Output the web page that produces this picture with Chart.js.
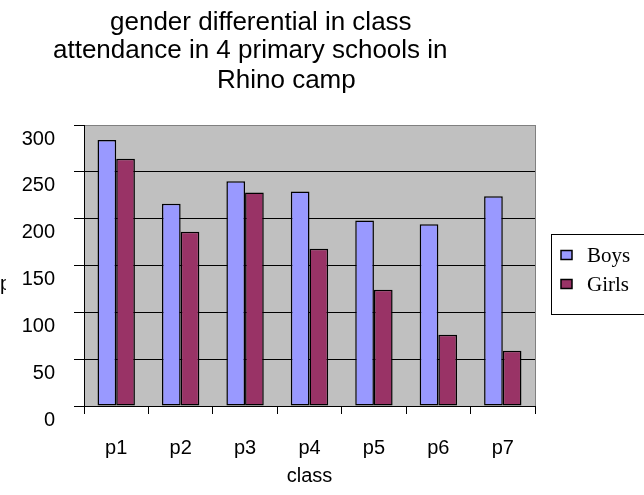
<!DOCTYPE html>
<html>
<head>
<meta charset="utf-8">
<script src="https://cdn.jsdelivr.net/npm/chart.js@4/dist/chart.umd.min.js"></script>
<style>
  html, body { margin: 0; padding: 0; background: #ffffff; }
  #wrap { width: 644px; height: 495px; }
</style>
</head>
<body>
<div id="wrap"><canvas id="chartAttendance" width="644" height="495"></canvas></div>
<script>
// data
const classes = ['p1', 'p2', 'p3', 'p4', 'p5', 'p6', 'p7'];
const boys = [284, 216, 240, 229, 198, 194, 224];
const girls = [264, 186, 228, 168, 124, 76, 59];
const yTicks = [0, 50, 100, 150, 200, 250, 300];
const seriesNames = ['Boys', 'Girls'];
const titleLines = ['gender differential in class', 'attendance in 4 primary schools in', 'Rhino camp'];

Chart.defaults.font.family = '"Liberation Sans", Arial, sans-serif';
Chart.defaults.font.size = 20;
Chart.defaults.color = '#000';

// grey plot area + excel style title, legend box and the cut "p"
const excelLook = {
    id: 'excelLook',
    beforeDraw(chart) {
        const a = chart.chartArea;
        const ctx = chart.ctx;
        ctx.save();
        ctx.fillStyle = '#c0c0c0';
        ctx.fillRect(a.left, a.top, a.right - a.left, a.bottom - a.top);
        ctx.restore();
    },
    afterDraw(chart) {
        const a = chart.chartArea;
        const ctx = chart.ctx;
        ctx.save();

        // right border of plot
        ctx.strokeStyle = '#808080';
        ctx.lineWidth = 1;
        ctx.beginPath();
        ctx.moveTo(Math.round(a.right) + 0.5, a.top);
        ctx.lineTo(Math.round(a.right) + 0.5, a.bottom);
        ctx.stroke();

        // title
        ctx.fillStyle = '#000';
        ctx.font = '26px "Liberation Sans", Arial, sans-serif';
        ctx.textAlign = 'left';
        ctx.textBaseline = 'alphabetic';
        const tx = [110, 53, 217];
        const ty = [30, 58, 88];
        titleLines.forEach((t, i) => ctx.fillText(t, tx[i], ty[i]));

        // cut off y title
        ctx.save();
        ctx.beginPath();
        ctx.rect(0, 0, 6, 495);
        ctx.clip();
        ctx.font = '20px "Liberation Sans", Arial, sans-serif';
        ctx.fillText('p', 0, 290);
        ctx.restore();

        // legend
        const lx = a.right + 16;
        const ly = 234;
        ctx.fillStyle = '#fff';
        ctx.fillRect(lx, ly, 120, 80);
        ctx.strokeStyle = '#000';
        ctx.strokeRect(lx + 0.5, ly + 0.5, 120, 80);
        ctx.font = '21px "Liberation Serif", "Times New Roman", serif';
        ctx.textBaseline = 'middle';
        chart.data.datasets.forEach((ds, i) => {
            const cy = ly + 21 + i * 29;
            ctx.fillStyle = ds.backgroundColor;
            ctx.fillRect(lx + 10, cy - 4.5, 11, 9);
            ctx.strokeStyle = '#000';
            ctx.lineWidth = 1.5;
            ctx.strokeRect(lx + 10, cy - 4.5, 11, 9);
            ctx.fillStyle = '#000';
            ctx.fillText(ds.label, lx + 36, cy + 1);
        });
        ctx.restore();
    }
};

new Chart(document.getElementById('chartAttendance'), {
    type: 'bar',
    data: {
        labels: classes,
        datasets: [{
            label: seriesNames[0],
            data: boys,
            backgroundColor: '#9999ff',
            borderColor: '#000',
            borderWidth: 1.5,
            borderSkipped: false,
            categoryPercentage: 0.58,
            barPercentage: 1
        }, {
            label: seriesNames[1],
            data: girls,
            backgroundColor: '#993366',
            borderColor: '#000',
            borderWidth: 1.5,
            borderSkipped: false,
            categoryPercentage: 0.58,
            barPercentage: 1
        }]
    },
    options: {
        responsive: false,
        animation: false,
        layout: {
            padding: { top: 125, right: 109, bottom: 0, left: 20 }
        },
        plugins: {
            legend: { display: false },
            title: { display: false },
            tooltip: { enabled: false }
        },
        scales: {
            x: {
                afterFit: scale => { scale.height = 89; },
                grid: {
                    drawOnChartArea: false,
                    tickLength: 8,
                    tickColor: '#000',
                    color: '#000'
                },
                border: { color: '#000' },
                ticks: { padding: 22, font: { size: 20 } },
                title: {
                    display: true,
                    text: 'class',
                    font: { size: 20 },
                    padding: { top: 0, bottom: 7 }
                }
            },
            y: {
                min: 0,
                max: 300,
                afterFit: scale => { scale.width = 64; },
                afterBuildTicks: axis => {
                    axis.ticks = yTicks.map(v => ({ value: v }));
                },
                grid: {
                    color: ctx => (ctx.tick && ctx.tick.value === 300) ? '#808080' : '#000',
                    tickColor: '#000',
                    tickLength: 10
                },
                border: { color: '#000' },
                ticks: { padding: 19, labelOffset: 14, font: { size: 20 } }
            }
        }
    },
    plugins: [excelLook]
});
</script>
</body>
</html>
